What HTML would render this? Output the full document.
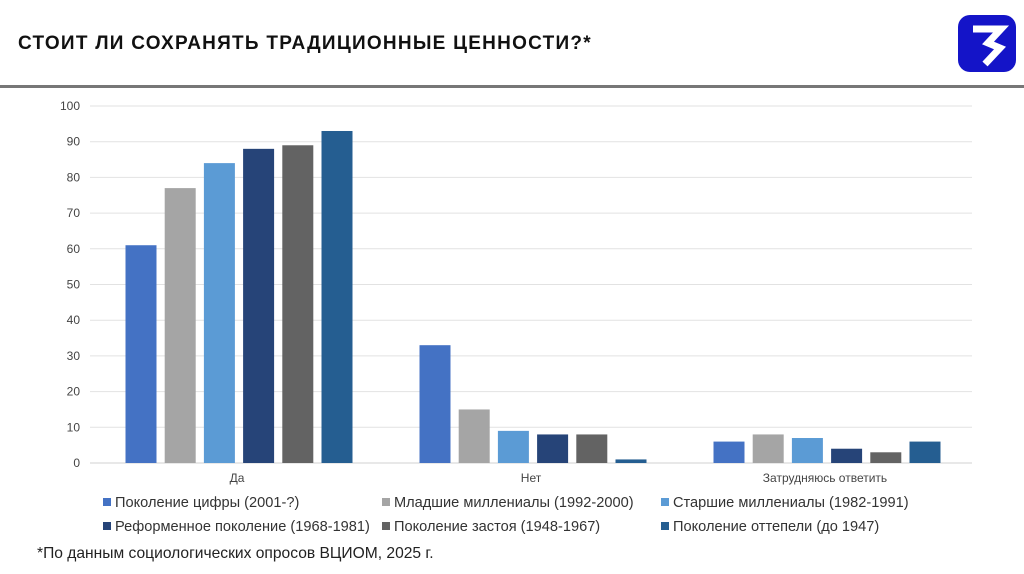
<!DOCTYPE html>
<html><head><meta charset="utf-8"><style>
body{margin:0;width:1024px;height:574px;background:#fff;overflow:hidden;font-family:"Liberation Sans","DejaVu Sans",sans-serif;}
#title{position:absolute;left:18px;top:33px;font-size:19px;font-weight:bold;letter-spacing:1.25px;color:#111;white-space:nowrap;}
#rule{position:absolute;left:0;top:85px;width:1024px;height:3px;background:#777;}
#logo{position:absolute;left:958px;top:15px;width:58px;height:57px;background:#1414c8;border-radius:12px;}
svg{position:absolute;left:0;top:0;}
#foot{position:absolute;left:37px;top:545px;font-size:15.6px;color:#222;}
</style></head><body>
<div id="title">СТОИТ ЛИ СОХРАНЯТЬ ТРАДИЦИОННЫЕ ЦЕННОСТИ?*</div>
<div id="rule"></div>
<div id="logo">
<svg width="58" height="57" viewBox="0 0 58 57"><path d="M15 14 H43 L30 28 L42 33 L27 49" fill="none" stroke="#fff" stroke-width="7" stroke-linejoin="miter"/></svg>
</div>
<svg id="chart" width="1024" height="574"></svg>
<div id="foot">*По данным социологических опросов ВЦИОМ, 2025 г.</div>
<script>
const categories=["Да","Нет","Затрудняюсь ответить"];
const seriesNames=["Поколение цифры (2001-?)","Младшие миллениалы (1992-2000)","Старшие миллениалы (1982-1991)","Реформенное поколение (1968-1981)","Поколение застоя (1948-1967)","Поколение оттепели (до 1947)"];
const s0=[61,33,6];
const s1=[77,15,8];
const s2=[84,9,7];
const s3=[88,8,4];
const s4=[89,8,3];
const s5=[93,1,6];
const yTicks=[0,10,20,30,40,50,60,70,80,90,100];
const series=[s0,s1,s2,s3,s4,s5];
const colors=["#4472c4","#a5a5a5","#5b9bd5","#264478","#636363","#255e91"];
const NS="http://www.w3.org/2000/svg";
const svg=document.getElementById('chart');
const x0=90,x1=972,y0=463,y1=106;
const y=v=>y0-(v/100)*(y0-y1);
const gw=(x1-x0)/categories.length;
const bw=31,pitch=39.2;
function el(t,a){const e=document.createElementNS(NS,t);for(const k in a)e.setAttribute(k,a[k]);svg.appendChild(e);return e;}
yTicks.forEach(t=>{
 const l=el('line',{x1:x0,x2:x1,y1:y(t),y2:y(t),stroke:t===0?'#d0d0d0':'#e2e2e2','stroke-width':1});
 
 
 const tx=el('text',{x:80,y:y(t)+4,'text-anchor':'end','font-size':12,fill:'#444'});
 tx.textContent=t;
 
 
});
categories.forEach((c,ci)=>{
 const start=x0+ci*gw+(gw-(5*pitch+bw))/2+2;
 series.forEach((s,si)=>{
  const r=el('rect',{x:start+si*pitch,y:y(s[ci]),width:bw,height:y0-y(s[ci]),fill:colors[si]});
  
  
 });
 const t=el('text',{x:x0+ci*gw+gw/2,y:482,'text-anchor':'middle','font-size':12,fill:'#444'});
 t.textContent=c;
 
 
});
const lx=[103,382,661],ly=[502,526];
seriesNames.forEach((n,i)=>{
 const cx=lx[i%3],cy=ly[Math.floor(i/3)];
 const m=el('rect',{x:cx,y:cy-4,width:8,height:8,fill:colors[i]});
 
 
 const t=el('text',{x:cx+12,y:cy+5,'font-size':14.6,fill:'#333'});
 t.textContent=n;
 
 
});
</script>
</body></html>
